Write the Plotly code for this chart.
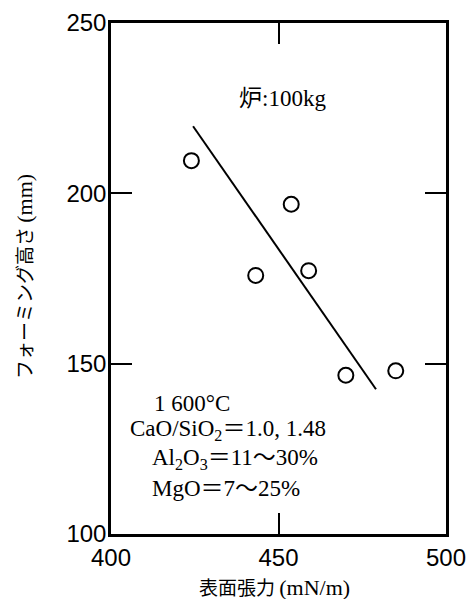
import plotly.graph_objects as go

# Measured data (surface tension vs foaming height)
tension = [424.0, 443.2, 453.8, 459.0, 470.1, 485.0]
foam_height = [209.6, 175.9, 196.8, 177.3, 146.6, 147.9]

# Regression line end points
fit_x = [424.5, 479.1]
fit_y = [219.7, 142.5]

x_ticks = [400, 450, 500]
y_ticks = [100, 150, 200, 250]

serif = "Liberation Serif, Times New Roman, Noto Sans CJK JP, serif"
sans = "Liberation Sans, Arial, sans-serif"
cjk = "Noto Sans CJK JP, Liberation Serif, serif"

span = "<span style='font-family:Liberation Serif;font-size:22px'>"
x_title = "表面張力 " + span + "(mN/m)</span>"
y_title = "フォーミング高さ " + span + "(mm)</span>"

W, H = 470, 599
L, R, T, B = 111, 24, 23, 65
pw, ph = W - L - R, H - T - B

def px(x):
    return (x - L) / pw

def py(y):
    return (H - B - y) / ph

fig = go.Figure()
fig.add_trace(go.Scatter(x=fit_x, y=fit_y, mode="lines",
                         line=dict(color="black", width=2), showlegend=False))
fig.add_trace(go.Scatter(x=tension, y=foam_height, mode="markers",
                         marker=dict(symbol="circle-open", size=15,
                                     color="black", line=dict(color="black", width=2)),
                         showlegend=False))

ann = [
    ("炉:100kg", 237, 98, 23),
    ("1 600°C", 152, 403, 23),
    ("CaO/SiO<sub>2</sub>＝1.0, 1.48", 128, 430, 23),
    ("Al<sub>2</sub>O<sub>3</sub>＝11～30%", 150, 459, 23),
    ("MgO＝7～25%", 150, 488, 23),
]
for text, x, y, s in ann:
    fig.add_annotation(text=text, x=px(x), y=py(y), xref="paper", yref="paper",
                       xanchor="left", yanchor="middle", showarrow=False,
                       font=dict(family=serif, size=s, color="black"))

# axis titles
fig.add_annotation(text=x_title, x=px(274), y=py(586), xref="paper", yref="paper",
                   xanchor="center", yanchor="middle", showarrow=False,
                   font=dict(family=cjk, size=19, color="black"))
fig.add_annotation(text=y_title, x=px(23), y=py(277), xref="paper", yref="paper",
                   xanchor="center", yanchor="middle", showarrow=False, textangle=-90,
                   font=dict(family=cjk, size=19, color="black"))

axis_common = dict(showline=True, linecolor="black", linewidth=2.5, mirror="ticks",
                   ticks="inside", ticklen=21, tickwidth=2, tickcolor="black",
                   showgrid=False, zeroline=False, automargin=False,
                   tickfont=dict(family=sans, size=24, color="black"))

fig.update_layout(
    width=W, height=H,
    margin=dict(l=L, r=R, t=T, b=B),
    plot_bgcolor="white", paper_bgcolor="white",
    xaxis=dict(range=[400, 500], tickvals=x_ticks, **axis_common),
    yaxis=dict(range=[100, 250], tickvals=y_ticks, ticklabelstandoff=-3, **axis_common),
)

fig.write_html("out.html", config={"displayModeBar": False},
               post_script="document.body.style.margin='0px';"
                           "document.body.style.overflow='hidden';")
